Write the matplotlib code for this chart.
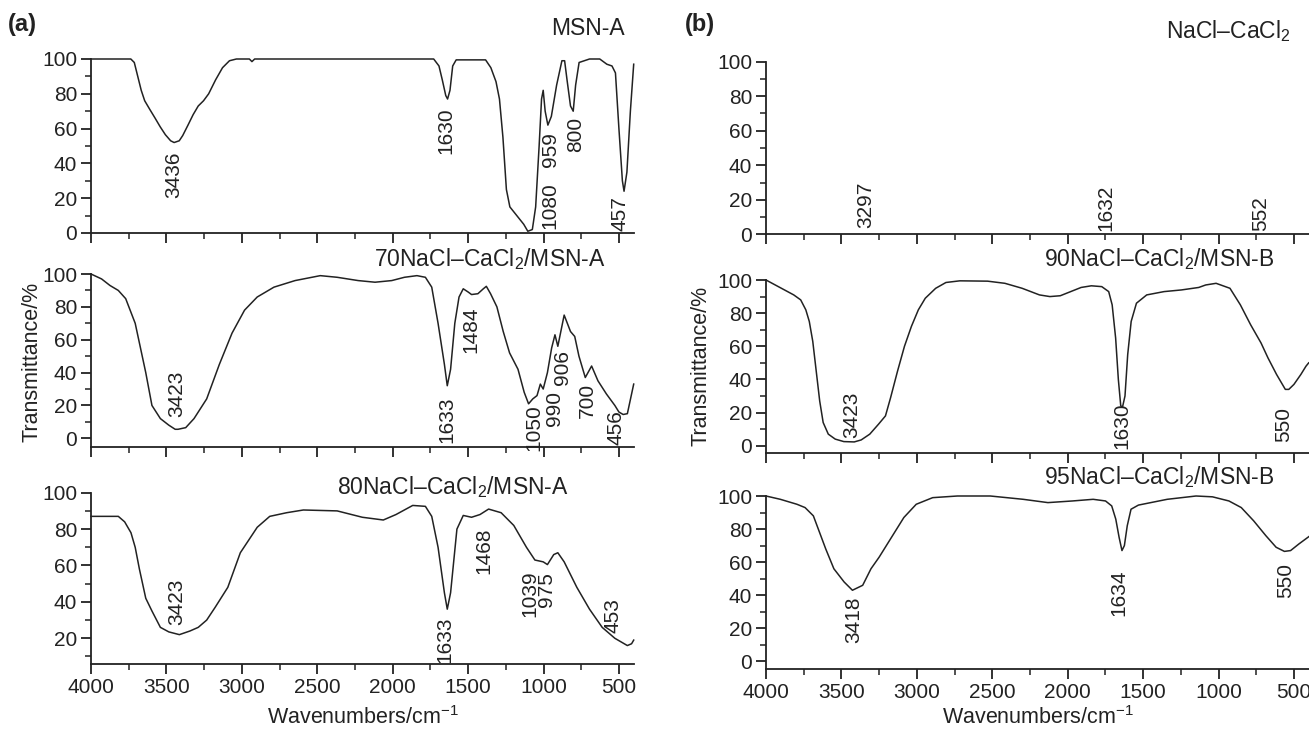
import numpy as np
import matplotlib.pyplot as plt
from matplotlib.ticker import MultipleLocator

plt.rcParams['font.family'] = ['Liberation Sans', 'DejaVu Sans']
plt.rcParams['mathtext.fontset'] = 'custom'
plt.rcParams['mathtext.rm'] = 'Liberation Sans'
plt.rcParams['mathtext.it'] = 'Liberation Sans'

# =========================
# Data
# =========================
# (a) MSN-A
wn_a1 = [4000, 3736, 3713, 3690, 3667, 3644, 3610, 3575, 3541, 3507, 3472, 3449, 3415, 3392,
         3357, 3323, 3289, 3254, 3220, 3174, 3128, 3082, 3036, 2950, 2933, 2915, 2400, 1728,
         1693, 1671, 1648, 1636, 1620, 1602, 1579, 1384, 1349, 1315, 1292, 1269, 1246, 1223,
         1177, 1131, 1104, 1074, 1052, 1029, 1013, 1002, 989, 971, 948, 913, 878, 860, 844,
         821, 803, 787, 764, 695, 627, 580, 546, 523, 500, 477, 466, 447, 424, 402]
tr_a1 = [100, 100, 98, 90, 82, 76, 71, 66, 61, 56.5, 53, 52, 53, 56,
         62, 68, 73, 76, 80, 88, 95, 99, 100, 100, 98.5, 100, 100, 100,
         96, 88, 79, 77, 82, 96, 99.5, 99.5, 95, 87, 77, 55, 25, 15,
         10, 5, 1, 2, 15, 50, 77, 82, 70, 62, 67, 85, 99, 99, 88,
         73, 70, 85, 98, 100, 100, 97, 96, 92, 60, 30, 24, 35, 70, 97]

# (a) 70NaCl-CaCl2/MSN-A
wn_a2 = [4000, 3930, 3874, 3819, 3770, 3749, 3707, 3679, 3637, 3596, 3540, 3484, 3442, 3423,
         3372, 3317, 3233, 3149, 3065, 2982, 2898, 2787, 2647, 2480, 2368, 2229, 2117, 2006,
         1922, 1839, 1783, 1741, 1699, 1657, 1638, 1616, 1588, 1560, 1532, 1499, 1477, 1435,
         1399, 1379, 1351, 1309, 1267, 1225, 1169, 1128, 1099, 1071, 1043, 1021, 1002, 974,
         946, 924, 905, 863, 821, 793, 765, 723, 681, 639, 583, 527, 500, 472, 444, 402]
tr_a2 = [100, 97, 93, 90, 85, 80, 70, 58, 40, 20, 12, 8, 5.5, 5.5,
         6.5, 12, 24, 45, 64, 78, 86, 92, 96, 99, 98, 96, 95, 96,
         98, 99, 98, 92, 70, 45, 32, 42, 70, 86, 91, 89, 87.5, 88,
         91, 92.5, 88, 80, 65, 52, 42, 28, 21, 24, 26, 33, 30, 40,
         55, 63, 56, 75, 65, 62, 50, 37, 44, 35, 27, 20, 16, 14.5, 15, 33]

# (a) 80NaCl-CaCl2/MSN-A
wn_a3 = [4000, 3819, 3777, 3735, 3707, 3679, 3637, 3596, 3540, 3484, 3414, 3344, 3289, 3233,
         3177, 3093, 3010, 2954, 2898, 2815, 2703, 2592, 2368, 2201, 2062, 1978, 1867, 1783,
         1741, 1699, 1657, 1638, 1616, 1574, 1532, 1477, 1421, 1364, 1281, 1197, 1113, 1057,
         1002, 974, 932, 905, 863, 779, 695, 611, 527, 444, 416, 402]
tr_a3 = [87, 87, 84, 78, 70, 58, 42, 35, 26, 23.5, 22, 24, 26, 30,
         37, 48, 67, 74, 81, 87, 89, 90.5, 90, 86.5, 85, 88, 93, 92.5,
         87, 70, 45, 36, 45, 80, 87.5, 86.5, 88, 91, 89, 82, 70, 63,
         62, 60.5, 66, 67, 62, 48, 36, 26, 20, 16, 17, 19]

# (b) 90NaCl-CaCl2/MSN-B
wn_b2 = [4000, 3908, 3816, 3770, 3736, 3713, 3690, 3667, 3644, 3621, 3587, 3541, 3484, 3415,
         3369, 3312, 3254, 3208, 3174, 3128, 3082, 3036, 2990, 2944, 2875, 2807, 2715, 2531,
         2416, 2302, 2187, 2118, 2049, 1980, 1911, 1843, 1774, 1728, 1705, 1682, 1664, 1648,
         1636, 1620, 1602, 1579, 1544, 1476, 1361, 1246, 1131, 1085, 1016, 924, 855, 787,
         718, 672, 615, 557, 534, 500, 454, 420, 402]
tr_b2 = [100, 95.5, 91, 88, 82, 75, 63, 45, 27, 14, 7, 4, 2.5, 2.3,
         3.5, 7, 13, 18, 29, 45, 60, 72, 82, 89, 95, 98.5, 99.5, 99.3,
         98, 95, 91, 90, 90.5, 93, 95.5, 96.5, 96, 93, 85, 65, 40, 24,
         23.5, 30, 55, 75, 86, 91, 93, 94, 95.5, 97, 98, 95, 85, 73,
         62, 53, 43, 34, 34, 37, 43, 48, 50]

# (b) 95NaCl-CaCl2/MSN-B
wn_b3 = [4000, 3905, 3795, 3741, 3686, 3645, 3604, 3550, 3482, 3427, 3359, 3304, 3250, 3168,
         3086, 3004, 2895, 2731, 2513, 2295, 2131, 1968, 1831, 1749, 1708, 1681, 1659, 1640,
         1624, 1605, 1580, 1531, 1340, 1149, 1040, 931, 849, 767, 686, 618, 563, 522, 467, 400]
tr_b3 = [100, 98, 95, 93, 88, 78, 68, 56, 48, 43, 46, 56, 63, 75,
         87, 95, 99, 100, 100, 98, 96, 97, 98, 97, 94, 86, 75, 67,
         70, 82, 92, 94.5, 98, 100, 99.5, 97, 93, 85, 76, 69, 66.5, 67, 71, 75.5]

# peak labels: text, x centre, top of text (data units)
pk_a1 = [('3436', 3450, 47), ('1630', 1649, 72), ('1080', 960, 29), ('959', 952, 58),
         ('800', 784, 67), ('457', 494, 21)]
pk_a2 = [('3423', 3434, 41), ('1633', 1643, 25.5), ('1484', 1482, 80), ('1050', 1063, 20.5),
         ('990', 924, 29), ('906', 876, 54), ('700', 709, 33.5), ('456', 522, 17)]
pk_a3 = [('3423', 3434, 53), ('1633', 1657, 32), ('1468', 1398, 81), ('1039', 1091, 57.5),
         ('975', 980, 56.5), ('453', 542, 42)]
pk_b1 = [('3297', 3337, 30.5), ('1632', 1749, 28.5), ('552', 722, 22)]
pk_b2 = [('3423', 3433, 32.5), ('1630', 1639, 26), ('550', 568, 23.5)]
pk_b3 = [('3418', 3419, 39.5), ('1634', 1662, 55.5), ('550', 555, 59.5)]

W, H = 1309, 732
fig = plt.figure(figsize=(W / 100, H / 100), dpi=100)
ink = '#222222'


def rect(x0, x1, ytop, ybot):
    return [x0 / W, 1 - ybot / H, (x1 - x0) / W, (ybot - ytop) / H]


panels = [
    # rect, ylim bottom, data, peaks, title, title pos, bottom row
    (rect(91, 634, 59, 233), 0, (wn_a1, tr_a1), pk_a1, 'MSN-A', (460, 111), False),
    (rect(91, 634, 274, 446.7), -5.1, (wn_a2, tr_a2), pk_a2,
     '70NaCl–CaCl$_2$/MSN-A', (585, 101), False),
    (rect(91, 634, 492.7, 664.3), 5.7, (wn_a3, tr_a3), pk_a3,
     '80NaCl–CaCl$_2$/MSN-A', (830, 96), True),
    (rect(766, 1309, 61.7, 234.3), 0, None, pk_b1, 'NaCl–CaCl$_2$', (522, 110), False),
    (rect(766, 1309, 280, 452.7), -4.2, (wn_b2, tr_b2), pk_b2,
     '90NaCl–CaCl$_2$/MSN-B', (631, 105), False),
    (rect(766, 1309, 496, 669.3), -4.8, (wn_b3, tr_b3), pk_b3,
     '95NaCl–CaCl$_2$/MSN-B', (631, 103.5), True),
]

for r, ybot, data, peaks, title, tpos, bottom in panels:
    ax = fig.add_axes(r)
    if data is not None:
        ax.plot(data[0], data[1], color=ink, lw=1.1, clip_on=False)
    ax.set_xlim(4000, 400)
    ax.set_ylim(ybot, 100)
    for s in ['top', 'right']:
        ax.spines[s].set_visible(False)
    for s in ['left', 'bottom']:
        ax.spines[s].set_linewidth(1.3)
        ax.spines[s].set_color(ink)
    ax.xaxis.set_major_locator(MultipleLocator(500))
    ax.xaxis.set_minor_locator(MultipleLocator(250))
    ax.yaxis.set_major_locator(MultipleLocator(20))
    ax.yaxis.set_minor_locator(MultipleLocator(10))
    ax.tick_params(which='major', direction='out', length=7, width=1.3, color=ink,
                   labelsize=15, labelcolor=ink, pad=3)
    ax.tick_params(which='minor', direction='out', length=4, width=1.1, color=ink)
    if not bottom:
        ax.tick_params(axis='x', labelbottom=False)
    for txt, x, y in peaks:
        ax.text(x, y, txt, rotation=90, ha='center', va='top', fontsize=15,
                color=ink, clip_on=False)
    ax.text(tpos[0], tpos[1], title, ha='right', va='bottom', fontsize=16.5,
            color=ink, clip_on=False)

fig.text(8 / W, 1 - 25 / H, '(a)', fontsize=17, fontweight='bold', va='center', color=ink)
fig.text(685 / W, 1 - 25 / H, '(b)', fontsize=17, fontweight='bold', va='center', color=ink)
fig.text(32 / W, 1 - 362 / H, 'Transmittance/%', rotation=90, fontsize=15.5,
         ha='center', va='center', color=ink)
fig.text(701 / W, 1 - 366 / H, 'Transmittance/%', rotation=90, fontsize=15.5,
         ha='center', va='center', color=ink)
fig.text((91 + 634) / 2 / W, 1 - 718 / H, 'Wavenumbers/cm$^{-1}$', fontsize=15.5,
         ha='center', va='center', color=ink)
fig.text((766 + 1309) / 2 / W, 1 - 718 / H, 'Wavenumbers/cm$^{-1}$', fontsize=15.5,
         ha='center', va='center', color=ink)

fig.savefig('out.png', dpi=100)
